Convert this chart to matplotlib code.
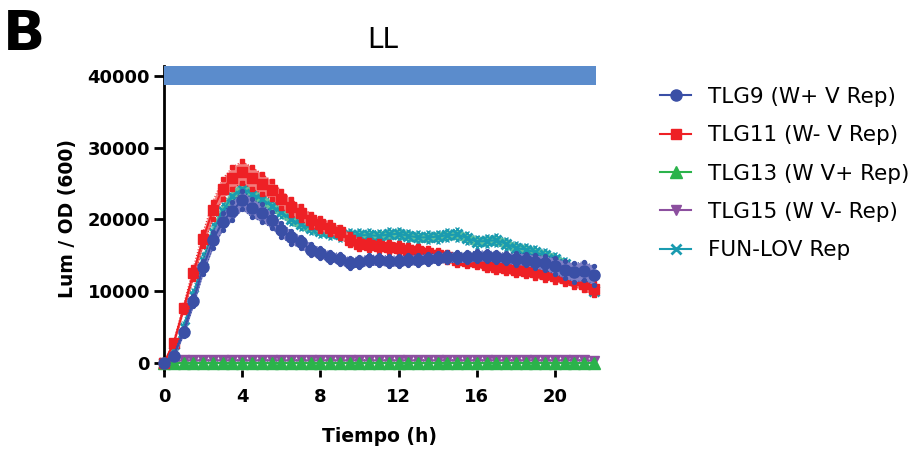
import matplotlib
matplotlib.use('Agg')
import matplotlib.pyplot as plt

# ---------------- data ----------------
time_h = [0, 0.5, 1, 1.5, 2, 2.5, 3, 3.5, 4, 4.5, 5, 5.5, 6, 6.5, 7, 7.5, 8, 8.5, 9, 9.5,
          10, 10.5, 11, 11.5, 12, 12.5, 13, 13.5, 14, 14.5, 15, 15.5, 16, 16.5, 17, 17.5,
          18, 18.5, 19, 19.5, 20, 20.5, 21, 21.5, 22]

tlg9_mean = [0, 1000, 4300, 8600, 13300, 17100, 19700, 21200, 22700, 21600, 20900, 19900,
             18500, 17500, 16800, 15800, 15300, 14800, 14500, 13900, 14100, 14300, 14300,
             14200, 14200, 14300, 14400, 14500, 14600, 14700, 14700, 14700, 14900, 14900,
             14800, 14600, 14500, 14400, 14100, 13900, 13500, 13000, 12600, 12800, 12200]
tlg9_sem = [0, 300, 500, 700, 900, 1100, 1200, 1300, 1300, 1300, 1200, 1100, 1000, 900, 800,
            800, 700, 700, 700, 700, 700, 700, 700, 700, 700, 700, 700, 700, 700, 700, 700,
            700, 700, 700, 700, 700, 800, 800, 900, 1000, 1100, 1200, 1300, 1300, 1300]

tlg11_mean = [0, 2800, 7600, 12500, 17300, 21300, 24300, 25800, 26600, 25800, 25000, 24100,
              22800, 21700, 20900, 19900, 19300, 18800, 18200, 17200, 16600, 16400, 16300,
              16100, 16000, 15800, 15600, 15300, 15000, 14700, 14400, 14200, 14000, 13700,
              13400, 13200, 13000, 12800, 12600, 12400, 12100, 11900, 11500, 11000, 10300]
tlg11_sem = [0, 300, 500, 800, 1000, 1200, 1400, 1500, 1500, 1500, 1400, 1300, 1200, 1100,
             1000, 900, 900, 800, 800, 800, 700, 700, 700, 700, 700, 700, 700, 700, 700, 700,
             700, 700, 700, 700, 700, 700, 700, 700, 800, 800, 800, 900, 900, 900, 900]

tlg13_mean = [0, 0, 0, 0, 0, 0, 0, 0, 0, 0, 0, 0, 0, 0, 0, 0, 0, 0, 0, 0, 0, 0, 0,
              0, 0, 0, 0, 0, 0, 0, 0, 0, 0, 0, 0, 0, 0, 0, 0, 0, 0, 0, 0, 0, 0]
tlg13_sem = [0, 100, 100, 100, 100, 100, 100, 100, 100, 100, 100, 100, 100, 100, 100, 100,
             100, 100, 100, 100, 100, 100, 100, 100, 100, 100, 100, 100, 100, 100, 100, 100,
             100, 100, 100, 100, 100, 100, 100, 100, 100, 100, 100, 100, 100]

tlg15_mean = [0, 300, 350, 350, 350, 350, 350, 350, 350, 350, 350, 350, 350, 350, 350, 350,
              350, 350, 350, 350, 350, 350, 350, 350, 350, 350, 350, 350, 350, 350, 350, 350,
              350, 350, 350, 350, 350, 350, 350, 350, 350, 350, 350, 350, 300]
tlg15_sem = [0, 100, 100, 100, 100, 100, 100, 100, 100, 100, 100, 100, 100, 100, 100, 100,
             100, 100, 100, 100, 100, 100, 100, 100, 100, 100, 100, 100, 100, 100, 100, 100,
             100, 100, 100, 100, 100, 100, 100, 100, 100, 100, 100, 100, 100]

funlov_mean = [0, 1500, 5000, 9500, 14300, 18300, 21200, 23200, 24300, 23600, 22800, 21900,
               21000, 20000, 19300, 18800, 18400, 18100, 17900, 17800, 17800, 17800, 17700,
               17900, 18000, 17700, 17500, 17500, 17600, 17800, 17900, 17400, 16900, 17000,
               17100, 16600, 16000, 15800, 15400, 15000, 14500, 13800, 12800, 11500, 10000]
funlov_sem = [0, 300, 500, 700, 900, 1000, 1000, 1000, 800, 800, 800, 700, 700, 700, 700,
              700, 700, 700, 700, 700, 700, 700, 700, 700, 700, 700, 700, 700, 700, 700, 700,
              700, 700, 700, 700, 700, 700, 700, 700, 700, 700, 700, 700, 700, 600]

labels = ['TLG9 (W+ V Rep)', 'TLG11 (W- V Rep)', 'TLG13 (W V+ Rep)',
          'TLG15 (W V- Rep)', 'FUN-LOV Rep']

light_start, light_end = 0, 22.1
light_level, light_height = 40050, 2700

x_ticks = [0, 4, 8, 12, 16, 20]
y_ticks = [0, 10000, 20000, 30000, 40000]

# ---------------- style ----------------
means = [tlg9_mean, tlg11_mean, tlg13_mean, tlg15_mean, funlov_mean]
sems = [tlg9_sem, tlg11_sem, tlg13_sem, tlg15_sem, funlov_sem]
line_colors = ['#3a4fa6', '#ee2025', '#2bb34b', '#8c4f9f', '#1a9bb0']
fill_colors = ['#7f80c6', '#f27d7d', '#7fd08f', '#c49ad0', '#62c29a']
markers = ['o', 's', '^', 'v', 'x']
msizes = [8, 7, 8, 7, 7]

fig = plt.figure(figsize=(9.16, 4.5), dpi=100)
ax = fig.add_axes([164 / 916, 1 - 370 / 450, (596 - 164) / 916, (370 - 66) / 450])
ax.set_xlim(0, 22.1)
ax.set_ylim(-1000, 41400)

handles = []
for i in range(len(means)):
    m, s = means[i], sems[i]
    lo = [a - b for a, b in zip(m, s)]
    hi = [a + b for a, b in zip(m, s)]
    z = 10 - 2 * i
    c, fc, mk = line_colors[i], fill_colors[i], markers[i]
    ax.fill_between(time_h, lo, hi, color=fc, lw=0, zorder=z)
    for edge in (lo, hi):
        ax.plot(time_h, edge, color=c, lw=0.8, ls=':', marker=mk, ms=2.8,
                mew=1.0, zorder=z + 0.1, clip_on=False)
    ln, = ax.plot(time_h, m, color=c, lw=1.5, marker=mk, ms=msizes[i],
                  mew=2 if mk == 'x' else 1, zorder=z + 0.5, clip_on=False, label=labels[i])
    handles.append(ln)

ax.barh(light_level, light_end - light_start, left=light_start, height=light_height,
        color='#5b8ccc', zorder=30, clip_on=False)

for sp in ['top', 'right', 'bottom']:
    ax.spines[sp].set_visible(False)
ax.spines['left'].set_linewidth(2)

ax.set_xticks(x_ticks)
ax.set_yticks(y_ticks)
ax.tick_params(axis='y', length=7, width=2, pad=3, labelsize=13)
ax.tick_params(axis='x', length=5, width=2, pad=8, labelsize=13)
for lab in ax.get_xticklabels() + ax.get_yticklabels():
    lab.set_fontweight('bold')

ax.set_ylabel('Lum / OD (600)', fontsize=13.5, fontweight='bold', labelpad=8)
ax.set_xlabel('Tiempo (h)', fontsize=13.5, fontweight='bold', labelpad=15)

fig.text(382.5 / 916, 1 - 48.3 / 450, 'LL', fontsize=20, ha='center', va='baseline')
fig.text(3 / 916, 1 - 50 / 450, 'B', fontsize=40, fontweight='bold', ha='left', va='baseline')

leg = fig.legend(handles=handles, loc='upper left', bbox_to_anchor=(660 / 916, 1 - 87 / 450),
                 frameon=False, fontsize=15.5, handlelength=1.44, handletextpad=0.8,
                 labelspacing=0.85, borderpad=0, borderaxespad=0)

fig.savefig('out.png', dpi=100)
